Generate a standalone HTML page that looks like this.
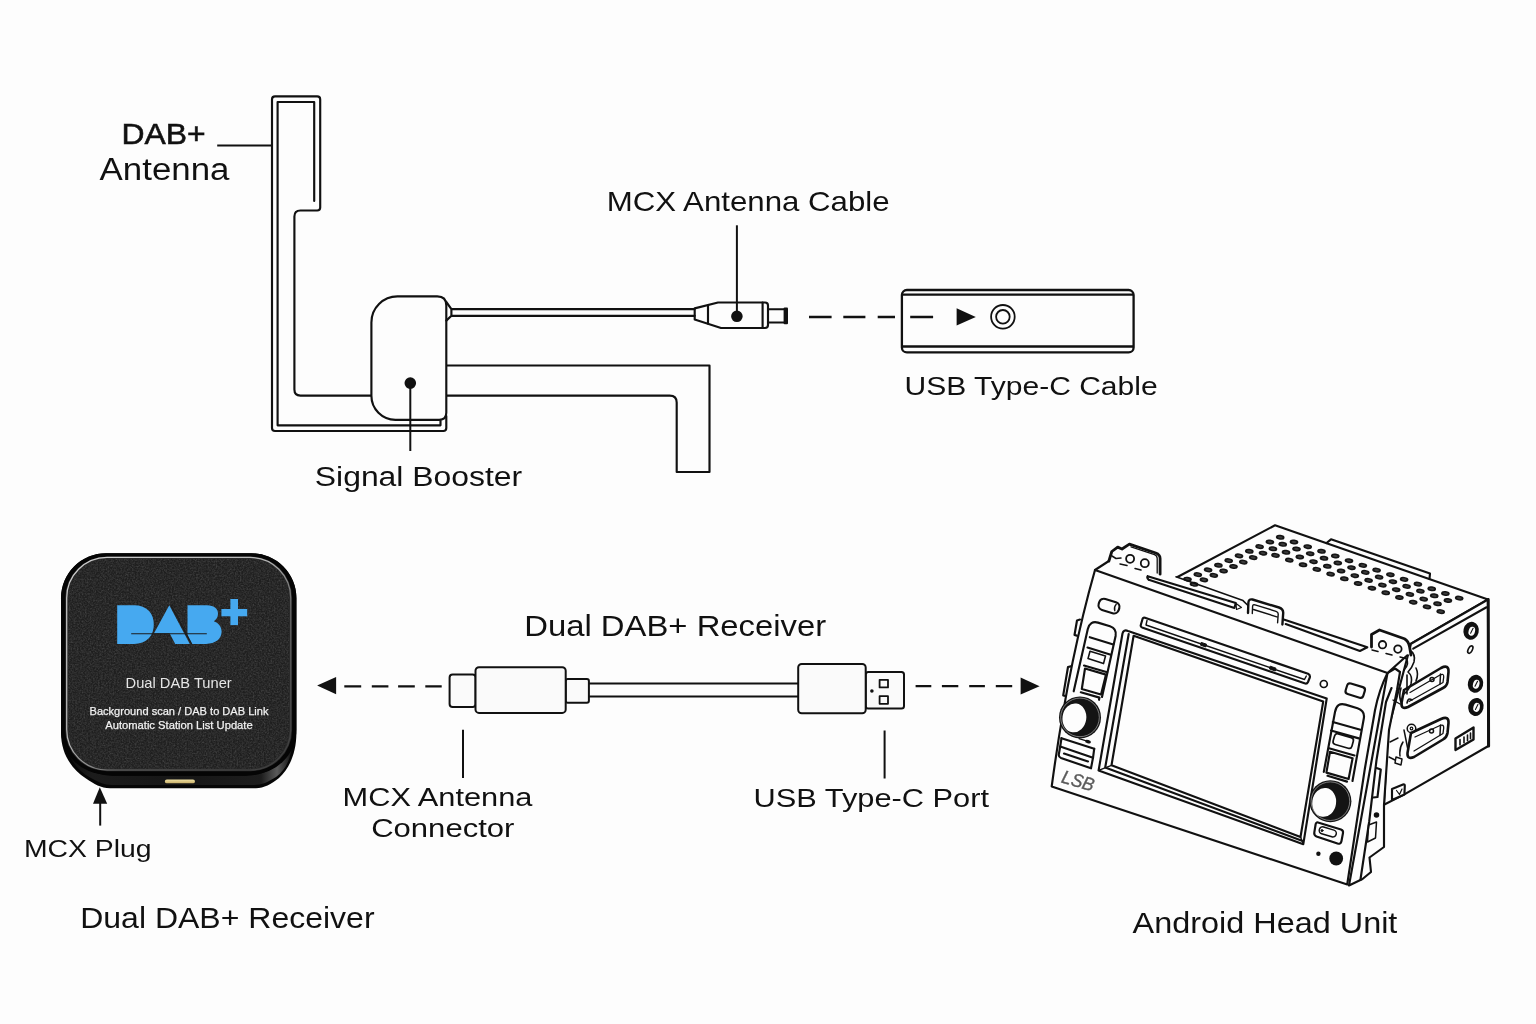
<!DOCTYPE html>
<html><head><meta charset="utf-8"><title>DAB+ wiring diagram</title>
<style>
html,body{margin:0;padding:0;background:#fdfdfd;}
body{width:1536px;height:1024px;overflow:hidden;font-family:"Liberation Sans",sans-serif;}
svg{display:block}
</style></head><body>
<svg width="1536" height="1024" viewBox="0 0 1536 1024">
<rect width="1536" height="1024" fill="#fdfdfd"/>
<defs>
<filter id="grain" x="0" y="0" width="100%" height="100%">
  <feTurbulence type="fractalNoise" baseFrequency="0.62" numOctaves="3" seed="7" result="n"/>
  <feColorMatrix in="n" type="matrix" values="0 0 0 0 1  0 0 0 0 1  0 0 0 0 1  0.55 0.55 0 0 -0.42"/>
  <feComposite operator="in" in2="SourceGraphic"/>
</filter>
<linearGradient id="sideg" x1="0" y1="0" x2="1" y2="0">
  <stop offset="0" stop-color="#0c0c0c"/><stop offset="0.12" stop-color="#1c1c1c"/><stop offset="0.5" stop-color="#161616"/>
  <stop offset="0.86" stop-color="#1d1d1d"/><stop offset="0.93" stop-color="#5a5a5a"/><stop offset="1" stop-color="#0c0c0c"/>
</linearGradient>
<linearGradient id="gold" x1="0" y1="0" x2="0" y2="1">
  <stop offset="0" stop-color="#f1e2a4"/><stop offset="1" stop-color="#c9b06a"/>
</linearGradient>
<linearGradient id="rimg" x1="0" y1="0" x2="1" y2="1">
  <stop offset="0" stop-color="#d8d8d8"/><stop offset="0.45" stop-color="#bdbdbd"/><stop offset="0.62" stop-color="#6a6a6a"/><stop offset="1" stop-color="#3a3a3a"/>
</linearGradient>
</defs>
<path d="M61 598 A45 45 0 0 1 106 553.2 L251.4 553.2 A45 45 0 0 1 296.4 598 L296.4 733 C296.4 752 290 768 279 778 C271 784 264 788.3 256 788.3 L110 788.3 C101 788.3 94 784 86 778.6 C70 768 61 752 61 733 Z" fill="#060606"/>
<path d="M65 738 C67 756 76 770 90 777.5 C98 782 104 785 112 785 L254 785 C262 785 268 782 276 777 C287 769 292 756 293 738 C289 762 270 775 246 776 L112 776 C90 775 70 762 65 738 Z" fill="url(#sideg)"/>
<rect x="61" y="553.2" width="235.4" height="221.3" rx="45" fill="#050505"/>
<rect x="65.3" y="556.6" width="226.8" height="214.6" rx="41.5" fill="#2c2c2c"/>
<rect x="66.7" y="557.4" width="224" height="212.6" rx="40.5" fill="none" stroke="url(#rimg)" stroke-width="1.2" opacity="0.95"/>
<rect x="68.2" y="558.7" width="221" height="210" rx="39" fill="#1f1f1f"/>
<rect x="68.2" y="558.7" width="221" height="210" rx="39" fill="#fff" filter="url(#grain)" opacity="0.34"/>
<g fill="#46a9f0">
<path d="M117.2 605.3 L134 605.3 C147 605.3 153.8 613.5 153.8 624.5 C153.8 636 146.5 643.9 134 643.9 L117.2 643.9 Z"/>
<path d="M169.3 605.3 L189.8 643.9 L175.2 643.9 L169.6 633.2 L154 633.2 Z"/>
<path d="M187.5 605.3 L207 605.3 C214.5 605.3 218 609 218 613.6 C218 617.5 216.3 619.8 213.8 621.2 C218.6 622.8 221.6 626.6 221.6 631.6 C221.6 639 215.5 643.9 206 643.9 L191.9 643.9 L187.5 635 Z"/>
<rect x="221.4" y="609" width="25.8" height="7.3"/><rect x="230.4" y="599" width="7.6" height="26.1"/>
</g>
<path d="M131.2 633.8 L206.8 633.8" stroke="#1c1c1c" stroke-width="1.1"/>
<path d="M169.8 605 L190.6 644.3" stroke="#1c1c1c" stroke-width="1.2" transform="translate(1.2,0)"/>
<rect x="164.9" y="779.4" width="30" height="3.9" rx="1.9" fill="url(#gold)"/>
<g font-family="'Liberation Sans', sans-serif" fill="#e6e6e6" opacity="0.999">
<text x="125.6" y="688" font-size="15" textLength="106.1" lengthAdjust="spacingAndGlyphs">Dual DAB Tuner</text>
<text x="89.5" y="715.2" font-size="11.6" textLength="179" lengthAdjust="spacingAndGlyphs" fill="#f2f2f2" stroke="#f2f2f2" stroke-width="0.25">Background scan / DAB to DAB Link</text>
<text x="105.2" y="729.1" font-size="11.6" textLength="147.5" lengthAdjust="spacingAndGlyphs" fill="#f2f2f2" stroke="#f2f2f2" stroke-width="0.25">Automatic Station List Update</text>
</g>
<g fill="none" stroke="#111" stroke-width="2.15" stroke-linejoin="round" stroke-linecap="round">
<path fill="#fdfdfd" stroke="none" d="M1172 580 L1275 525.3 L1488 599.5 L1411 643.7 Z"/>
<path d="M1177.5 577 L1275 525.3 L1488 599.5 L1411 643.7"/>
<path d="M1326.5 543 L1331 539.3 L1430 573.6 L1429.5 578.6"/>
<path fill="#fdfdfd" d="M1411 643.7 L1488 599.5 L1488.4 746 L1404.4 794.4 L1383.9 804.7 L1388 730 Z"/>
<path d="M1488.2 599.5 L1488.6 746" stroke-width="3"/>
<path d="M1413.2 648.6 L1486.5 607.3"/>
<ellipse cx="1471.1" cy="630.8" rx="6.6" ry="8" fill="#111" transform="rotate(14 1471.1 630.8)"/>
<ellipse cx="1471.8999999999999" cy="631.0999999999999" rx="3.2" ry="4.6" fill="#fdfdfd" stroke="none" transform="rotate(14 1471.1 630.8)"/>
<path d="M1470.6 633.3 L1473.1 628.3" stroke-width="1.1"/>
<ellipse cx="1475.5" cy="683.8" rx="6.6" ry="8" fill="#111" transform="rotate(14 1475.5 683.8)"/>
<ellipse cx="1476.3" cy="684.0999999999999" rx="3.2" ry="4.6" fill="#fdfdfd" stroke="none" transform="rotate(14 1475.5 683.8)"/>
<path d="M1475.0 686.3 L1477.5 681.3" stroke-width="1.1"/>
<ellipse cx="1475.9" cy="706.9" rx="6.6" ry="8" fill="#111" transform="rotate(14 1475.9 706.9)"/>
<ellipse cx="1476.7" cy="707.1999999999999" rx="3.2" ry="4.6" fill="#fdfdfd" stroke="none" transform="rotate(14 1475.9 706.9)"/>
<path d="M1475.4 709.4 L1477.9 704.4" stroke-width="1.1"/>
<ellipse cx="1470.3" cy="649.6" rx="2" ry="4" transform="rotate(28 1470.3 649.6)" stroke-width="1.6"/>
<path d="M1455.5 738.5 L1473.5 727.5 L1473.5 739.5 L1455.5 750 Z" stroke-width="2.4"/>
<path d="M1460 739.5 L1460 745 M1464 737 L1464 742.8 M1467.5 735 L1467.5 740.8 M1470.5 733 L1470.5 738.8" stroke-width="1.6"/>
</g>
<g fill="#151515">
<ellipse cx="1280.2" cy="537.3" rx="4.4" ry="2.45" transform="rotate(8 1280.2 537.3)"/>
<ellipse cx="1280.2" cy="537.3" rx="2.4" ry="1.05" fill="#3a3a3a" transform="rotate(8 1280.2 537.3)"/>
<ellipse cx="1294.0" cy="542.0" rx="4.4" ry="2.45" transform="rotate(8 1294.0 542.0)"/>
<ellipse cx="1294.0" cy="542.0" rx="2.4" ry="1.05" fill="#3a3a3a" transform="rotate(8 1294.0 542.0)"/>
<ellipse cx="1307.7" cy="546.7" rx="4.4" ry="2.45" transform="rotate(8 1307.7 546.7)"/>
<ellipse cx="1307.7" cy="546.7" rx="2.4" ry="1.05" fill="#3a3a3a" transform="rotate(8 1307.7 546.7)"/>
<ellipse cx="1321.5" cy="551.3" rx="4.4" ry="2.45" transform="rotate(8 1321.5 551.3)"/>
<ellipse cx="1321.5" cy="551.3" rx="2.4" ry="1.05" fill="#3a3a3a" transform="rotate(8 1321.5 551.3)"/>
<ellipse cx="1335.3" cy="556.0" rx="4.4" ry="2.45" transform="rotate(8 1335.3 556.0)"/>
<ellipse cx="1335.3" cy="556.0" rx="2.4" ry="1.05" fill="#3a3a3a" transform="rotate(8 1335.3 556.0)"/>
<ellipse cx="1349.0" cy="560.7" rx="4.4" ry="2.45" transform="rotate(8 1349.0 560.7)"/>
<ellipse cx="1349.0" cy="560.7" rx="2.4" ry="1.05" fill="#3a3a3a" transform="rotate(8 1349.0 560.7)"/>
<ellipse cx="1362.8" cy="565.4" rx="4.4" ry="2.45" transform="rotate(8 1362.8 565.4)"/>
<ellipse cx="1362.8" cy="565.4" rx="2.4" ry="1.05" fill="#3a3a3a" transform="rotate(8 1362.8 565.4)"/>
<ellipse cx="1376.6" cy="570.1" rx="4.4" ry="2.45" transform="rotate(8 1376.6 570.1)"/>
<ellipse cx="1376.6" cy="570.1" rx="2.4" ry="1.05" fill="#3a3a3a" transform="rotate(8 1376.6 570.1)"/>
<ellipse cx="1390.4" cy="574.7" rx="4.4" ry="2.45" transform="rotate(8 1390.4 574.7)"/>
<ellipse cx="1390.4" cy="574.7" rx="2.4" ry="1.05" fill="#3a3a3a" transform="rotate(8 1390.4 574.7)"/>
<ellipse cx="1404.1" cy="579.4" rx="4.4" ry="2.45" transform="rotate(8 1404.1 579.4)"/>
<ellipse cx="1404.1" cy="579.4" rx="2.4" ry="1.05" fill="#3a3a3a" transform="rotate(8 1404.1 579.4)"/>
<ellipse cx="1417.9" cy="584.1" rx="4.4" ry="2.45" transform="rotate(8 1417.9 584.1)"/>
<ellipse cx="1417.9" cy="584.1" rx="2.4" ry="1.05" fill="#3a3a3a" transform="rotate(8 1417.9 584.1)"/>
<ellipse cx="1431.7" cy="588.8" rx="4.4" ry="2.45" transform="rotate(8 1431.7 588.8)"/>
<ellipse cx="1431.7" cy="588.8" rx="2.4" ry="1.05" fill="#3a3a3a" transform="rotate(8 1431.7 588.8)"/>
<ellipse cx="1445.4" cy="593.5" rx="4.4" ry="2.45" transform="rotate(8 1445.4 593.5)"/>
<ellipse cx="1445.4" cy="593.5" rx="2.4" ry="1.05" fill="#3a3a3a" transform="rotate(8 1445.4 593.5)"/>
<ellipse cx="1459.2" cy="598.1" rx="4.4" ry="2.45" transform="rotate(8 1459.2 598.1)"/>
<ellipse cx="1459.2" cy="598.1" rx="2.4" ry="1.05" fill="#3a3a3a" transform="rotate(8 1459.2 598.1)"/>
<ellipse cx="1282.7" cy="544.3" rx="4.4" ry="2.45" transform="rotate(8 1282.7 544.3)"/>
<ellipse cx="1282.7" cy="544.3" rx="2.4" ry="1.05" fill="#3a3a3a" transform="rotate(8 1282.7 544.3)"/>
<ellipse cx="1296.5" cy="549.0" rx="4.4" ry="2.45" transform="rotate(8 1296.5 549.0)"/>
<ellipse cx="1296.5" cy="549.0" rx="2.4" ry="1.05" fill="#3a3a3a" transform="rotate(8 1296.5 549.0)"/>
<ellipse cx="1310.2" cy="553.7" rx="4.4" ry="2.45" transform="rotate(8 1310.2 553.7)"/>
<ellipse cx="1310.2" cy="553.7" rx="2.4" ry="1.05" fill="#3a3a3a" transform="rotate(8 1310.2 553.7)"/>
<ellipse cx="1324.0" cy="558.3" rx="4.4" ry="2.45" transform="rotate(8 1324.0 558.3)"/>
<ellipse cx="1324.0" cy="558.3" rx="2.4" ry="1.05" fill="#3a3a3a" transform="rotate(8 1324.0 558.3)"/>
<ellipse cx="1337.8" cy="563.0" rx="4.4" ry="2.45" transform="rotate(8 1337.8 563.0)"/>
<ellipse cx="1337.8" cy="563.0" rx="2.4" ry="1.05" fill="#3a3a3a" transform="rotate(8 1337.8 563.0)"/>
<ellipse cx="1351.5" cy="567.7" rx="4.4" ry="2.45" transform="rotate(8 1351.5 567.7)"/>
<ellipse cx="1351.5" cy="567.7" rx="2.4" ry="1.05" fill="#3a3a3a" transform="rotate(8 1351.5 567.7)"/>
<ellipse cx="1365.3" cy="572.4" rx="4.4" ry="2.45" transform="rotate(8 1365.3 572.4)"/>
<ellipse cx="1365.3" cy="572.4" rx="2.4" ry="1.05" fill="#3a3a3a" transform="rotate(8 1365.3 572.4)"/>
<ellipse cx="1379.1" cy="577.1" rx="4.4" ry="2.45" transform="rotate(8 1379.1 577.1)"/>
<ellipse cx="1379.1" cy="577.1" rx="2.4" ry="1.05" fill="#3a3a3a" transform="rotate(8 1379.1 577.1)"/>
<ellipse cx="1392.9" cy="581.7" rx="4.4" ry="2.45" transform="rotate(8 1392.9 581.7)"/>
<ellipse cx="1392.9" cy="581.7" rx="2.4" ry="1.05" fill="#3a3a3a" transform="rotate(8 1392.9 581.7)"/>
<ellipse cx="1406.6" cy="586.4" rx="4.4" ry="2.45" transform="rotate(8 1406.6 586.4)"/>
<ellipse cx="1406.6" cy="586.4" rx="2.4" ry="1.05" fill="#3a3a3a" transform="rotate(8 1406.6 586.4)"/>
<ellipse cx="1420.4" cy="591.1" rx="4.4" ry="2.45" transform="rotate(8 1420.4 591.1)"/>
<ellipse cx="1420.4" cy="591.1" rx="2.4" ry="1.05" fill="#3a3a3a" transform="rotate(8 1420.4 591.1)"/>
<ellipse cx="1434.2" cy="595.8" rx="4.4" ry="2.45" transform="rotate(8 1434.2 595.8)"/>
<ellipse cx="1434.2" cy="595.8" rx="2.4" ry="1.05" fill="#3a3a3a" transform="rotate(8 1434.2 595.8)"/>
<ellipse cx="1447.9" cy="600.5" rx="4.4" ry="2.45" transform="rotate(8 1447.9 600.5)"/>
<ellipse cx="1447.9" cy="600.5" rx="2.4" ry="1.05" fill="#3a3a3a" transform="rotate(8 1447.9 600.5)"/>
<ellipse cx="1286.0" cy="552.3" rx="4.4" ry="2.45" transform="rotate(8 1286.0 552.3)"/>
<ellipse cx="1286.0" cy="552.3" rx="2.4" ry="1.05" fill="#3a3a3a" transform="rotate(8 1286.0 552.3)"/>
<ellipse cx="1299.8" cy="557.0" rx="4.4" ry="2.45" transform="rotate(8 1299.8 557.0)"/>
<ellipse cx="1299.8" cy="557.0" rx="2.4" ry="1.05" fill="#3a3a3a" transform="rotate(8 1299.8 557.0)"/>
<ellipse cx="1313.5" cy="561.7" rx="4.4" ry="2.45" transform="rotate(8 1313.5 561.7)"/>
<ellipse cx="1313.5" cy="561.7" rx="2.4" ry="1.05" fill="#3a3a3a" transform="rotate(8 1313.5 561.7)"/>
<ellipse cx="1327.3" cy="566.3" rx="4.4" ry="2.45" transform="rotate(8 1327.3 566.3)"/>
<ellipse cx="1327.3" cy="566.3" rx="2.4" ry="1.05" fill="#3a3a3a" transform="rotate(8 1327.3 566.3)"/>
<ellipse cx="1341.1" cy="571.0" rx="4.4" ry="2.45" transform="rotate(8 1341.1 571.0)"/>
<ellipse cx="1341.1" cy="571.0" rx="2.4" ry="1.05" fill="#3a3a3a" transform="rotate(8 1341.1 571.0)"/>
<ellipse cx="1354.8" cy="575.7" rx="4.4" ry="2.45" transform="rotate(8 1354.8 575.7)"/>
<ellipse cx="1354.8" cy="575.7" rx="2.4" ry="1.05" fill="#3a3a3a" transform="rotate(8 1354.8 575.7)"/>
<ellipse cx="1368.6" cy="580.4" rx="4.4" ry="2.45" transform="rotate(8 1368.6 580.4)"/>
<ellipse cx="1368.6" cy="580.4" rx="2.4" ry="1.05" fill="#3a3a3a" transform="rotate(8 1368.6 580.4)"/>
<ellipse cx="1382.4" cy="585.1" rx="4.4" ry="2.45" transform="rotate(8 1382.4 585.1)"/>
<ellipse cx="1382.4" cy="585.1" rx="2.4" ry="1.05" fill="#3a3a3a" transform="rotate(8 1382.4 585.1)"/>
<ellipse cx="1396.2" cy="589.7" rx="4.4" ry="2.45" transform="rotate(8 1396.2 589.7)"/>
<ellipse cx="1396.2" cy="589.7" rx="2.4" ry="1.05" fill="#3a3a3a" transform="rotate(8 1396.2 589.7)"/>
<ellipse cx="1409.9" cy="594.4" rx="4.4" ry="2.45" transform="rotate(8 1409.9 594.4)"/>
<ellipse cx="1409.9" cy="594.4" rx="2.4" ry="1.05" fill="#3a3a3a" transform="rotate(8 1409.9 594.4)"/>
<ellipse cx="1423.7" cy="599.1" rx="4.4" ry="2.45" transform="rotate(8 1423.7 599.1)"/>
<ellipse cx="1423.7" cy="599.1" rx="2.4" ry="1.05" fill="#3a3a3a" transform="rotate(8 1423.7 599.1)"/>
<ellipse cx="1437.5" cy="603.8" rx="4.4" ry="2.45" transform="rotate(8 1437.5 603.8)"/>
<ellipse cx="1437.5" cy="603.8" rx="2.4" ry="1.05" fill="#3a3a3a" transform="rotate(8 1437.5 603.8)"/>
<ellipse cx="1275.5" cy="555.4" rx="4.4" ry="2.45" transform="rotate(8 1275.5 555.4)"/>
<ellipse cx="1275.5" cy="555.4" rx="2.4" ry="1.05" fill="#3a3a3a" transform="rotate(8 1275.5 555.4)"/>
<ellipse cx="1289.3" cy="560.1" rx="4.4" ry="2.45" transform="rotate(8 1289.3 560.1)"/>
<ellipse cx="1289.3" cy="560.1" rx="2.4" ry="1.05" fill="#3a3a3a" transform="rotate(8 1289.3 560.1)"/>
<ellipse cx="1303.0" cy="564.8" rx="4.4" ry="2.45" transform="rotate(8 1303.0 564.8)"/>
<ellipse cx="1303.0" cy="564.8" rx="2.4" ry="1.05" fill="#3a3a3a" transform="rotate(8 1303.0 564.8)"/>
<ellipse cx="1316.8" cy="569.4" rx="4.4" ry="2.45" transform="rotate(8 1316.8 569.4)"/>
<ellipse cx="1316.8" cy="569.4" rx="2.4" ry="1.05" fill="#3a3a3a" transform="rotate(8 1316.8 569.4)"/>
<ellipse cx="1330.6" cy="574.1" rx="4.4" ry="2.45" transform="rotate(8 1330.6 574.1)"/>
<ellipse cx="1330.6" cy="574.1" rx="2.4" ry="1.05" fill="#3a3a3a" transform="rotate(8 1330.6 574.1)"/>
<ellipse cx="1344.3" cy="578.8" rx="4.4" ry="2.45" transform="rotate(8 1344.3 578.8)"/>
<ellipse cx="1344.3" cy="578.8" rx="2.4" ry="1.05" fill="#3a3a3a" transform="rotate(8 1344.3 578.8)"/>
<ellipse cx="1358.1" cy="583.5" rx="4.4" ry="2.45" transform="rotate(8 1358.1 583.5)"/>
<ellipse cx="1358.1" cy="583.5" rx="2.4" ry="1.05" fill="#3a3a3a" transform="rotate(8 1358.1 583.5)"/>
<ellipse cx="1371.9" cy="588.2" rx="4.4" ry="2.45" transform="rotate(8 1371.9 588.2)"/>
<ellipse cx="1371.9" cy="588.2" rx="2.4" ry="1.05" fill="#3a3a3a" transform="rotate(8 1371.9 588.2)"/>
<ellipse cx="1385.7" cy="592.8" rx="4.4" ry="2.45" transform="rotate(8 1385.7 592.8)"/>
<ellipse cx="1385.7" cy="592.8" rx="2.4" ry="1.05" fill="#3a3a3a" transform="rotate(8 1385.7 592.8)"/>
<ellipse cx="1399.4" cy="597.5" rx="4.4" ry="2.45" transform="rotate(8 1399.4 597.5)"/>
<ellipse cx="1399.4" cy="597.5" rx="2.4" ry="1.05" fill="#3a3a3a" transform="rotate(8 1399.4 597.5)"/>
<ellipse cx="1413.2" cy="602.2" rx="4.4" ry="2.45" transform="rotate(8 1413.2 602.2)"/>
<ellipse cx="1413.2" cy="602.2" rx="2.4" ry="1.05" fill="#3a3a3a" transform="rotate(8 1413.2 602.2)"/>
<ellipse cx="1427.0" cy="606.9" rx="4.4" ry="2.45" transform="rotate(8 1427.0 606.9)"/>
<ellipse cx="1427.0" cy="606.9" rx="2.4" ry="1.05" fill="#3a3a3a" transform="rotate(8 1427.0 606.9)"/>
<ellipse cx="1440.7" cy="611.6" rx="4.4" ry="2.45" transform="rotate(8 1440.7 611.6)"/>
<ellipse cx="1440.7" cy="611.6" rx="2.4" ry="1.05" fill="#3a3a3a" transform="rotate(8 1440.7 611.6)"/>
<ellipse cx="1269.9" cy="542.0" rx="4.4" ry="2.45" transform="rotate(8 1269.9 542.0)"/>
<ellipse cx="1269.9" cy="542.0" rx="2.4" ry="1.05" fill="#3a3a3a" transform="rotate(8 1269.9 542.0)"/>
<ellipse cx="1259.6" cy="546.6" rx="4.4" ry="2.45" transform="rotate(8 1259.6 546.6)"/>
<ellipse cx="1259.6" cy="546.6" rx="2.4" ry="1.05" fill="#3a3a3a" transform="rotate(8 1259.6 546.6)"/>
<ellipse cx="1249.3" cy="551.3" rx="4.4" ry="2.45" transform="rotate(8 1249.3 551.3)"/>
<ellipse cx="1249.3" cy="551.3" rx="2.4" ry="1.05" fill="#3a3a3a" transform="rotate(8 1249.3 551.3)"/>
<ellipse cx="1239.0" cy="555.9" rx="4.4" ry="2.45" transform="rotate(8 1239.0 555.9)"/>
<ellipse cx="1239.0" cy="555.9" rx="2.4" ry="1.05" fill="#3a3a3a" transform="rotate(8 1239.0 555.9)"/>
<ellipse cx="1228.7" cy="560.6" rx="4.4" ry="2.45" transform="rotate(8 1228.7 560.6)"/>
<ellipse cx="1228.7" cy="560.6" rx="2.4" ry="1.05" fill="#3a3a3a" transform="rotate(8 1228.7 560.6)"/>
<ellipse cx="1218.4" cy="565.3" rx="4.4" ry="2.45" transform="rotate(8 1218.4 565.3)"/>
<ellipse cx="1218.4" cy="565.3" rx="2.4" ry="1.05" fill="#3a3a3a" transform="rotate(8 1218.4 565.3)"/>
<ellipse cx="1208.1" cy="569.9" rx="4.4" ry="2.45" transform="rotate(8 1208.1 569.9)"/>
<ellipse cx="1208.1" cy="569.9" rx="2.4" ry="1.05" fill="#3a3a3a" transform="rotate(8 1208.1 569.9)"/>
<ellipse cx="1197.8" cy="574.6" rx="4.4" ry="2.45" transform="rotate(8 1197.8 574.6)"/>
<ellipse cx="1197.8" cy="574.6" rx="2.4" ry="1.05" fill="#3a3a3a" transform="rotate(8 1197.8 574.6)"/>
<ellipse cx="1187.5" cy="579.2" rx="4.4" ry="2.45" transform="rotate(8 1187.5 579.2)"/>
<ellipse cx="1187.5" cy="579.2" rx="2.4" ry="1.05" fill="#3a3a3a" transform="rotate(8 1187.5 579.2)"/>
<ellipse cx="1272.9" cy="548.8" rx="4.4" ry="2.45" transform="rotate(8 1272.9 548.8)"/>
<ellipse cx="1272.9" cy="548.8" rx="2.4" ry="1.05" fill="#3a3a3a" transform="rotate(8 1272.9 548.8)"/>
<ellipse cx="1263.0" cy="553.2" rx="4.4" ry="2.45" transform="rotate(8 1263.0 553.2)"/>
<ellipse cx="1263.0" cy="553.2" rx="2.4" ry="1.05" fill="#3a3a3a" transform="rotate(8 1263.0 553.2)"/>
<ellipse cx="1253.2" cy="557.6" rx="4.4" ry="2.45" transform="rotate(8 1253.2 557.6)"/>
<ellipse cx="1253.2" cy="557.6" rx="2.4" ry="1.05" fill="#3a3a3a" transform="rotate(8 1253.2 557.6)"/>
<ellipse cx="1243.3" cy="562.1" rx="4.4" ry="2.45" transform="rotate(8 1243.3 562.1)"/>
<ellipse cx="1243.3" cy="562.1" rx="2.4" ry="1.05" fill="#3a3a3a" transform="rotate(8 1243.3 562.1)"/>
<ellipse cx="1233.5" cy="566.5" rx="4.4" ry="2.45" transform="rotate(8 1233.5 566.5)"/>
<ellipse cx="1233.5" cy="566.5" rx="2.4" ry="1.05" fill="#3a3a3a" transform="rotate(8 1233.5 566.5)"/>
<ellipse cx="1223.6" cy="571.0" rx="4.4" ry="2.45" transform="rotate(8 1223.6 571.0)"/>
<ellipse cx="1223.6" cy="571.0" rx="2.4" ry="1.05" fill="#3a3a3a" transform="rotate(8 1223.6 571.0)"/>
<ellipse cx="1213.8" cy="575.4" rx="4.4" ry="2.45" transform="rotate(8 1213.8 575.4)"/>
<ellipse cx="1213.8" cy="575.4" rx="2.4" ry="1.05" fill="#3a3a3a" transform="rotate(8 1213.8 575.4)"/>
<ellipse cx="1203.9" cy="579.9" rx="4.4" ry="2.45" transform="rotate(8 1203.9 579.9)"/>
<ellipse cx="1203.9" cy="579.9" rx="2.4" ry="1.05" fill="#3a3a3a" transform="rotate(8 1203.9 579.9)"/>
<ellipse cx="1194.0" cy="584.3" rx="4.4" ry="2.45" transform="rotate(8 1194.0 584.3)"/>
<ellipse cx="1194.0" cy="584.3" rx="2.4" ry="1.05" fill="#3a3a3a" transform="rotate(8 1194.0 584.3)"/>
</g>
<g fill="none" stroke="#111" stroke-width="2.15" stroke-linejoin="round" stroke-linecap="round">
<path fill="#fdfdfd" stroke-width="2.6" d="M1404 690 L1441 668 Q1449 664 1448.5 672 L1447.5 682 Q1447 686 1443 688 L1408 707 Q1401 710 1401.5 703 Z"/>
<path d="M1410 692.5 L1440 675 Q1444 673 1443.7 677 L1443 682.5 L1409 701.5" stroke-width="1.3"/>
<circle cx="1432" cy="679.5" r="2" stroke-width="1.5"/><path d="M1440.5 674 L1440 684" stroke-width="1.5"/>
<path fill="#fdfdfd" stroke-width="2.6" d="M1411 733 L1441 719 Q1449 715.5 1448.5 723 L1447.5 733 Q1447 737 1443 739.5 L1414 757 Q1407 760 1407.5 753 Z"/>
<path d="M1415 737 L1440 725.5 Q1444 724 1443.7 728 L1443 733.5 L1414 751" stroke-width="1.3"/>
<circle cx="1431.5" cy="731" r="2" stroke-width="1.5"/><path d="M1440.5 725 L1440 735" stroke-width="1.5"/>
<circle cx="1411.5" cy="728.5" r="4.3" stroke-width="1.5"/><circle cx="1411.5" cy="728.5" r="1.3" stroke-width="1.2"/>
<path fill="#fdfdfd" d="M1392 789 L1403 784.5 Q1405 784 1404.8 786 L1404.4 794.4 L1392 800 Z"/>
<path d="M1396.5 790.5 L1399.5 794.5 L1402 789" stroke-width="1.2"/>
<path d="M1409.5 650 Q1416 654 1414 662 Q1412 668 1408 672 Q1413 676 1411 684 Q1409 690 1404 694 M1416 668 Q1419 674 1416 681 M1401 688 Q1398 697 1402 704 M1407 675 L1407 694 M1412 700 Q1408 697 1407 703" stroke-width="1.6"/>
<path d="M1403 742 Q1399 748 1400 756 M1396 757 L1402 759 L1401 765 L1395 763 Z M1404 730 L1408 750" stroke-width="1.5"/>
<path fill="#fdfdfd" d="M1387.5 673 L1395 668.5 L1400 672 L1397 690 L1389 730 L1384 805 L1384 847 L1369.5 857.5 L1371 872 L1362.5 879 L1349 885.5 Z"/>
<path d="M1391.5 688 L1386 702 L1376.5 760 L1369.2 821.5 L1360.4 880"/>
<path d="M1376.5 768 L1380.8 769.5 L1377.5 797 L1373.2 797.5"/>
<path d="M1368.5 825 L1376.5 822 L1375.5 838 L1367.5 842 Z" stroke-width="1.5"/>
<circle cx="1376.5" cy="815" r="1.7" fill="#111"/>
<path d="M1393 700 L1400 704 M1390 742 L1398 738 M1389 757 L1395 760" stroke-width="1.4"/>
<path fill="#fdfdfd" stroke="none" d="M1095 570 L1108.9 561 L1160 574.2 L1236 603 L1284 620 L1367 647.5 L1411 652 L1387.5 673 Z"/>
<path d="M1095 570 L1108.9 561 M1411 652 L1387.5 673"/>
<path fill="#fdfdfd" stroke-width="2.8" d="M1108.9 561 L1111.8 551.5 L1117.7 547.1 L1122 549 L1129.4 544.2 L1155.8 553 Q1160.1 554.5 1160.1 558.5 L1160.1 574.2"/>
<path d="M1131 546.8 L1154.5 554.6 Q1157.2 555.8 1157.2 558.6 L1157.2 573" stroke-width="1.3"/>
<circle cx="1130.1" cy="558.8" r="4" stroke-width="1.8"/><circle cx="1144.8" cy="563.2" r="4" stroke-width="1.8"/>
<path d="M1112 556 L1116 558.5 L1121 558 M1120 564 L1127 565.5 M1135 568.5 L1141 570" stroke-width="1.5"/>
<path d="M1176 576.8 L1243 600.6 L1248 605.5" stroke-width="1.6"/>
<path d="M1147.7 576.2 L1235.8 603 M1148.8 579.8 L1234.4 608 L1235.8 603 M1147.7 576.2 Q1146.5 578 1148.8 579.8"/>
<path d="M1236 603.5 L1241.5 607.5 L1236.5 609.5 Z" stroke-width="1.2"/>
<path fill="#fdfdfd" stroke-width="2.4" d="M1248 613 L1248.4 602.5 Q1248.6 598.7 1252.5 599.5 L1279 607.5 Q1283.4 609 1283.2 613 L1282.4 624.5"/>
<path d="M1252.3 613.5 L1252.6 606.2 Q1252.8 604.3 1255 604.9 L1276 611.3 Q1278.4 612.2 1278.2 614.4 L1277.6 622.8 M1253.5 609.5 L1276.8 616.8" stroke-width="1.4"/>
<path d="M1283.8 619.5 L1367.3 647.3 M1285.7 624.1 L1359.9 651 L1367.3 647.3"/>
<path fill="#fdfdfd" stroke-width="2.8" d="M1371.5 647 L1371.5 634.4 L1379.5 630 L1404.4 638.8 Q1408.5 641 1409.6 646.9 L1411 655"/>
<circle cx="1382.5" cy="644.7" r="3.7" stroke-width="1.8"/><circle cx="1397.9" cy="649.1" r="3.7" stroke-width="1.8"/>
<path d="M1372 650 L1378 651.5 M1386 653.5 L1392 655 M1400 657 L1406 658.5 M1406 658.5 Q1410 664 1404 670" stroke-width="1.5"/>
<path fill="#fdfdfd" d="M1095 570 L1387.5 673 Q1379 690 1375 710.3 L1364.8 769 L1347.2 884.5 L1051.7 786.5 Q1068 665 1095 570 Z"/>
<path d="M1070.8 666.4 L1068 667 L1063.2 695.4 L1065.4 696 M1080 619.5 L1077 620.5 L1074.5 635 L1076.8 635.6"/>
<path d="M1128 630.9 L1326.7 698.6 L1303.3 844.2 L1098.6 770.4 L1122.5 633.5 Q1123.5 629.2 1128 630.9 Z"/>
<path d="M1128.7 634 L1105.2 767.5 L1302 840.7"/>
<path d="M1133.6 635.8 L1323.2 701.6 L1300.5 837 L1111.5 765.3 Z"/>
<path d="M1098.6 770.4 L1111.5 765.3 M1303.3 844.2 L1300.5 837" stroke-width="1.4"/>
<path d="M1145 617.8 L1308 673.8 Q1310.5 675 1309.8 677.5 L1308 682 Q1307 684.2 1304.5 683.3 L1142 627.4 Q1140.3 626.6 1140.8 625 L1142.6 618.8 Q1143.3 617.2 1145 617.8 Z"/>
<path d="M1147 620.5 L1146 625 L1304.5 679.5 L1306.3 676" stroke-width="1.4"/>
<path d="M1201.5 642.5 L1206.5 644.2 L1205.8 647 L1200.8 645.3 Z M1270.5 666.3 L1276 668.2 L1275.3 671 L1269.8 669.1 Z" fill="#111" stroke-width="1"/>
<rect x="1098.5" y="600.3" width="21" height="11.5" rx="5" transform="rotate(17 1109 606)"/>
<path d="M1114.8 610.8 Q1113.5 607.5 1116.3 604.2" stroke-width="1.3"/>
<path d="M1073.7 691.3 L1087.8 629 Q1090 620.5 1098 622.6 L1110 626.2 Q1117 628.6 1115.6 636 L1102 697"/>
<path d="M1089.8 637.2 L1113.3 644.5 M1087.5 647.5 L1110.8 654.8" />
<path d="M1090 651.2 L1105.5 656 L1103.5 663.6 L1088 658.6 Z" stroke-width="1.6"/>
<path d="M1084 665.5 L1107.2 672.3 M1085 668.5 L1106 674.6 L1101 694.5 L1081.8 689 Z M1080.8 692.3 L1099.5 697.6 L1099 699.8"/>
<path d="M1061.5 738.2 L1094.2 748.8 M1060.2 746.5 L1093 757.8 M1060.2 746.5 L1058.8 754.5 Q1058.5 757 1061 758 L1091 768.3 L1093 757.8 M1064 753.5 L1088 761.5" />
<path d="M1061.5 738.2 L1060.2 746.5 M1094.2 748.8 L1093 757.8"/>
<ellipse cx="1088" cy="741.6" rx="3" ry="1.7" fill="#111" stroke="none" transform="rotate(18 1088 741.6)"/>
<path d="M1079 738.6 L1085.5 740.6" stroke-width="1.1"/>
<path d="M1323.8 771.9 L1335 712 Q1336.8 702 1345.5 704.6 L1357.5 708.2 Q1365.2 710.8 1363.8 718.5 L1352.5 781"/>
<path d="M1332.8 722 L1360.4 729.7 M1331 730.5 L1358.8 738.4"/>
<rect x="1333.5" y="735.5" width="19.5" height="11" rx="3" transform="rotate(16 1343 741)" stroke-width="1.7"/>
<path d="M1329 748.2 L1354.5 755.5 M1330 751.8 L1352.6 758.2 L1348.6 779 L1326.4 772.6 Z M1327.5 775.8 L1347 781.6"/>
<circle cx="1323.8" cy="684" r="3.5" stroke-width="1.7"/>
<rect x="1346" y="685" width="18.5" height="11" rx="3" transform="rotate(17 1355 690.5)"/>
<path d="M1318 822.5 L1341 829.5 Q1343.5 830.5 1343 833 L1341.5 841 Q1340.8 844.5 1337.5 843.5 L1316.5 836.5 Q1313.8 835.3 1314.3 832.5 L1315.6 824.5 Q1316 822 1318 822.5 Z"/>
<rect x="1319" y="828.5" width="17.5" height="7" rx="3.4" transform="rotate(17 1328 832)" stroke-width="1.5"/>
<circle cx="1322" cy="830.6" r="1" fill="#111" stroke-width="1"/>
</g>
<circle cx="1336.2" cy="858.5" r="6.9" fill="#111"/><circle cx="1318.4" cy="853.8" r="2.2" fill="#111"/>
<circle cx="1080.0" cy="717.4" r="21" fill="#141414"/>
<circle cx="1080.0" cy="717.4" r="19.3" fill="none" stroke="#e6e6e6" stroke-width="0.7" opacity="0.7"/>
<ellipse cx="1074.4" cy="717.9" rx="11.9" ry="14.5" fill="#fdfdfd" transform="rotate(8 1074.4 717.9)"/>
<circle cx="1330.4" cy="801.2" r="21" fill="#141414"/>
<circle cx="1330.4" cy="801.2" r="19.3" fill="none" stroke="#e6e6e6" stroke-width="0.7" opacity="0.7"/>
<ellipse cx="1324.2" cy="802.4" rx="11.9" ry="14.5" fill="#fdfdfd" transform="rotate(8 1324.2 802.4)"/>
<text x="1060.6" y="782.3" font-family="'Liberation Sans', sans-serif" font-style="italic" font-size="18.5" fill="#5a5a5a" stroke="#5a5a5a" stroke-width="0.35" opacity="0.999" transform="rotate(16 1060.6 782.3)" textLength="33" lengthAdjust="spacingAndGlyphs">LSB</text>
<g fill="none" stroke="#111" stroke-width="2.15" stroke-linejoin="round" stroke-linecap="round">
<path d="M446.3 416 L446.3 428 Q446.3 431 443.3 431 L275 431 Q272 431 272 428 L272 99.4 Q272 96.4 275 96.4 L317.2 96.4 Q320.2 96.4 320.2 99.4 L320.2 207.5 Q320.2 210.5 317.2 210.5 L300.4 210.5 Q294.4 210.5 294.4 216.5 L294.4 389.6 Q294.4 395.6 300.4 395.6 L371.4 395.6"/>
<path d="M440.5 420.6 L440.5 425.3 L277.6 425.3 L277.6 102 L314.2 102 L314.2 201"/>
<path d="M446.3 365.5 L709.5 365.5 L709.5 472 L676.7 472 L676.7 402.6 Q676.7 395.6 669.7 395.6 L446.3 395.6"/>
<path fill="#fdfdfd" d="M397.4 296.4 L437.3 296.4 Q446.3 296.4 446.3 305.4 L446.3 412.8 Q446.3 419.8 439.3 419.8 L395.4 419.8 A24 24 0 0 1 371.4 395.8 L371.4 322.4 A26 26 0 0 1 397.4 296.4 Z"/>
<path d="M446.3 302 L451.4 309.1 L694.7 309.1 M446.3 320.6 L451.4 315.8 L694.7 315.8 M451.4 309.1 L451.4 315.8"/>
<path d="M694.7 308.4 L718 302.5 L765 302.5 Q768 302.5 768 305.5 L768 325 Q768 328 765 328 L721 328 L694.7 319.4 Z"/>
<path d="M708 305.2 L708 323.6 M762.6 302.5 L762.6 328"/>
<path d="M768 309.2 L784.5 309.2 M768 322.5 L784.5 322.5"/>
</g>
<rect x="783.6" y="307.6" width="4.4" height="16.6" rx="1" fill="#111"/>
<g stroke="#111" stroke-width="2" fill="#111">
<circle cx="410.3" cy="383.1" r="4.8"/><path d="M410.3 383 L410.3 451"/>
<circle cx="736.9" cy="316.3" r="4.8"/><path d="M736.9 316 L736.9 225.3"/>
<path d="M217.2 145.6 L272 145.6"/>
</g>
<g stroke="#111" stroke-width="2.4" fill="none">
<path d="M809 317 L831.6 317 M843.3 317 L865.4 317 M877.7 317 L895 317 M910.2 317 L933.1 317"/>
</g>
<path d="M956.6 308.2 L956.6 325.6 L975.8 317 Z" fill="#111"/>
<g stroke="#111" stroke-width="1.8" fill="none"><circle cx="1002.9" cy="316.8" r="11.8"/><circle cx="1002.9" cy="316.8" r="6.8"/></g>
<g stroke="#111" stroke-width="2.3" fill="none">
<rect x="901.9" y="290" width="231.7" height="62.4" rx="5"/>
<path d="M902.5 294.6 L1133 294.6 M902.5 346.5 L1133 346.5"/>
</g>
<path d="M317.1 685.5 L336.1 677 L336.1 694.2 Z" fill="#111"/>
<g stroke="#111" stroke-width="2.2" fill="none">
<path d="M344.3 686.3 L361.2 686.3 M371.8 686.3 L388.4 686.3 M398.1 686.3 L414.8 686.3 M425.3 686.3 L441.7 686.3"/>
<path d="M915.6 686.2 L931.3 686.2 M941.9 686.2 L958.3 686.2 M969.2 686.2 L984.9 686.2 M995.8 686.2 L1012.2 686.2"/>
</g>
<path d="M1020.6 677.5 L1020.6 694.6 L1039.6 686.2 Z" fill="#111"/>
<g stroke="#111" stroke-width="2" fill="#fafafa" stroke-linejoin="round">
<path fill="none" d="M588.9 683.5 L798.2 683.5 M588.9 696.4 L798.2 696.4"/>
<rect x="449.6" y="674.4" width="26" height="32.5" rx="3"/>
<rect x="565.7" y="678.9" width="23.2" height="23.8" rx="2"/>
<rect x="475.5" y="667.3" width="90.2" height="45.6" rx="3.5"/>
<rect x="865.7" y="672" width="38.3" height="36.5" rx="2.5"/>
<rect x="798.2" y="664" width="67.5" height="49.2" rx="3.5"/>
<rect x="879.6" y="679.8" width="8.4" height="7.6" fill="none" stroke-width="1.8"/>
<rect x="879.6" y="696.2" width="8.4" height="7.6" fill="none" stroke-width="1.8"/>
</g>
<circle cx="871.9" cy="691" r="1.8" fill="#111"/>
<g stroke="#111" stroke-width="2" fill="none">
<path d="M463 729.8 L463 777.9 M884.6 730.4 L884.6 778.5"/>
<path d="M100.2 800 L100.2 825.6"/>
</g>
<path d="M99.8 787.3 L93 803.8 L107.2 803.8 Z" fill="#111"/>
<g font-family="'Liberation Sans', sans-serif" opacity="0.999">
<text x="121.4" y="144.3" font-size="30.4" textLength="84.2" lengthAdjust="spacingAndGlyphs" font-weight="400" fill="#111" stroke="#111" stroke-width="0.55">DAB+</text>
<text x="99.6" y="180" font-size="30.6" textLength="129.8" lengthAdjust="spacingAndGlyphs" font-weight="400" fill="#111" >Antenna</text>
<text x="606.8" y="211.3" font-size="27.8" textLength="282.8" lengthAdjust="spacingAndGlyphs" font-weight="400" fill="#111" >MCX Antenna Cable</text>
<text x="314.8" y="486.4" font-size="28.4" textLength="207.4" lengthAdjust="spacingAndGlyphs" font-weight="400" fill="#111" >Signal Booster</text>
<text x="904.6" y="395.4" font-size="26.6" textLength="253" lengthAdjust="spacingAndGlyphs" font-weight="400" fill="#111" >USB Type-C Cable</text>
<text x="524.2" y="635.6" font-size="29" textLength="302" lengthAdjust="spacingAndGlyphs" font-weight="400" fill="#111" >Dual DAB+ Receiver</text>
<text x="342.6" y="806.4" font-size="26.2" textLength="189.8" lengthAdjust="spacingAndGlyphs" font-weight="400" fill="#111" >MCX Antenna</text>
<text x="371.2" y="837.2" font-size="26.2" textLength="143.2" lengthAdjust="spacingAndGlyphs" font-weight="400" fill="#111" >Connector</text>
<text x="753.6" y="806.9" font-size="26.4" textLength="235.4" lengthAdjust="spacingAndGlyphs" font-weight="400" fill="#111" >USB Type-C Port</text>
<text x="24" y="857.1" font-size="24.8" textLength="127.6" lengthAdjust="spacingAndGlyphs" font-weight="400" fill="#111" >MCX Plug</text>
<text x="80.2" y="928.2" font-size="29.6" textLength="294.4" lengthAdjust="spacingAndGlyphs" font-weight="400" fill="#111" >Dual DAB+ Receiver</text>
<text x="1132.6" y="933.2" font-size="29" textLength="264.8" lengthAdjust="spacingAndGlyphs" font-weight="400" fill="#111" >Android Head Unit</text>
</g>
</svg>
</body></html>
